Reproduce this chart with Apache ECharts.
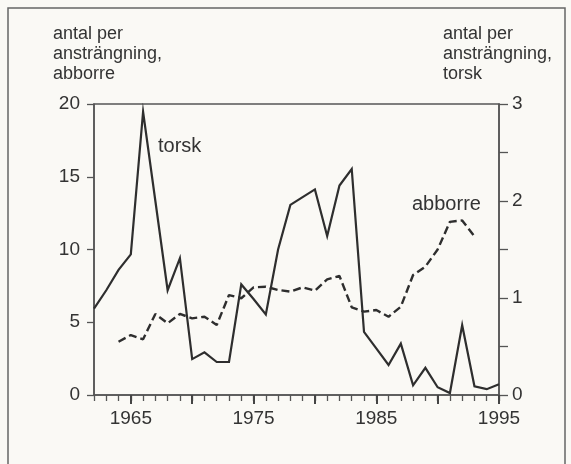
<!DOCTYPE html>
<html>
<head>
<meta charset="utf-8">
<script src="https://cdn.jsdelivr.net/npm/echarts@6/dist/echarts.min.js"></script>
<style>
  html, body { margin: 0; padding: 0; background: #faf9f5; }
  #chart { width: 571px; height: 464px; }
</style>
</head>
<body>
<div id="chart"></div>
<script>
// data
var years = [1962, 1963, 1964, 1965, 1966, 1967, 1968, 1969, 1970, 1971, 1972, 1973,
  1974, 1975, 1976, 1977, 1978, 1979, 1980, 1981, 1982, 1983, 1984, 1985,
  1986, 1987, 1988, 1989, 1990, 1991, 1992, 1993, 1994, 1995];
// torsk, right axis (antal per ansträngning)
var torsk = [0.89, 1.08, 1.29, 1.45, 2.92, 2.0, 1.08, 1.41, 0.37, 0.44, 0.34, 0.34,
  1.14, 0.99, 0.83, 1.5, 1.96, 2.04, 2.12, 1.64, 2.16, 2.33, 0.65, 0.48,
  0.31, 0.53, 0.10, 0.28, 0.08, 0.02, 0.72, 0.09, 0.06, 0.11];
// abborre, left axis
var abborre = [null, null, 3.66, 4.12, 3.83, 5.57, 4.93, 5.57, 5.27, 5.38, 4.81, 6.87,
  6.65, 7.40, 7.44, 7.22, 7.10, 7.40, 7.17, 7.95, 8.18, 6.03, 5.73, 5.84,
  5.38, 6.07, 8.25, 8.82, 10.0, 11.9, 12.0, 10.9, null, null];
var yearLabels = [1965, 1975, 1985, 1995];
var majorYearTicks = [1965, 1970, 1975, 1980, 1985, 1990, 1995];

var font = "'Liberation Sans', Arial, sans-serif";
var ink = '#333';

function pairs(vals) {
  var out = [];
  for (var i = 0; i < years.length; i++) {
    if (vals[i] != null) out.push([years[i], vals[i]]);
  }
  return out;
}

var myChart = echarts.init(document.getElementById('chart'));

var option = {
  backgroundColor: '#faf9f5',
  animation: false,
  grid: {
    left: 94, right: 72, top: 104, bottom: 69,
    show: true, borderColor: '#555', borderWidth: 1.5, backgroundColor: 'transparent'
  },
  xAxis: [{
    type: 'value', min: 1962, max: 1995, interval: 1,
    axisLine: { show: true, lineStyle: { color: '#555', width: 1.5 } },
    axisTick: { show: true, length: 6, lineStyle: { color: '#555', width: 1.3 } },
    axisLabel: {
      customValues: yearLabels, margin: 14,
      fontFamily: font, fontSize: 19, color: ink,
      formatter: function (v) { return String(v); }
    },
    splitLine: { show: false }
  }, {
    type: 'value', min: 1962, max: 1995, position: 'bottom',
    axisLine: { show: false },
    axisTick: { show: true, customValues: majorYearTicks, length: 9, lineStyle: { color: '#444', width: 2 } },
    axisLabel: { show: false },
    splitLine: { show: false }
  }],
  yAxis: [{
    type: 'value', min: 0, max: 20, interval: 5, position: 'left',
    axisLine: { show: true, lineStyle: { color: '#555', width: 1.5 } },
    axisTick: { show: true, length: 7, lineStyle: { color: '#555', width: 1.3 } },
    axisLabel: { margin: 14, fontFamily: font, fontSize: 19, color: ink },
    splitLine: { show: false }
  }, {
    type: 'value', min: 0, max: 3, interval: 0.5, position: 'right',
    axisLine: { show: true, lineStyle: { color: '#555', width: 1.5 } },
    axisTick: { show: true, length: 9, lineStyle: { color: '#555', width: 1.3 } },
    axisLabel: {
      margin: 13, fontFamily: font, fontSize: 19, color: ink,
      formatter: function (v) { return v % 1 === 0 ? String(v) : ''; }
    },
    splitLine: { show: false }
  }],
  series: [{
    name: 'torsk', type: 'line', yAxisIndex: 1,
    data: pairs(torsk), symbol: 'none',
    lineStyle: { color: '#2e2e2e', width: 2.2, join: 'miter' }
  }, {
    name: 'abborre', type: 'line', yAxisIndex: 0,
    data: pairs(abborre), symbol: 'none',
    lineStyle: { color: '#2e2e2e', width: 2.4, type: [8, 4] }
  }],
  graphic: [
    { type: 'rect', shape: { x: 8, y: 8, width: 557, height: 470 },
      style: { fill: 'none', stroke: '#666', lineWidth: 1.5 }, silent: true },
    { type: 'text', x: 53, y: 24, style: {
      text: 'antal per\nansträngning,\nabborre', font: '18px ' + font,
      fill: ink, lineHeight: 20, textVerticalAlign: 'top' } },
    { type: 'text', x: 443, y: 24, style: {
      text: 'antal per\nansträngning,\ntorsk', font: '18px ' + font,
      fill: ink, lineHeight: 20, textVerticalAlign: 'top' } },
    { type: 'text', x: 158, y: 146, style: {
      text: 'torsk', font: '20px ' + font, fill: ink, textVerticalAlign: 'middle' } },
    { type: 'text', x: 412, y: 204, style: {
      text: 'abborre', font: '20px ' + font, fill: ink, textVerticalAlign: 'middle' } }
  ]
};

myChart.setOption(option);
</script>
</body>
</html>
